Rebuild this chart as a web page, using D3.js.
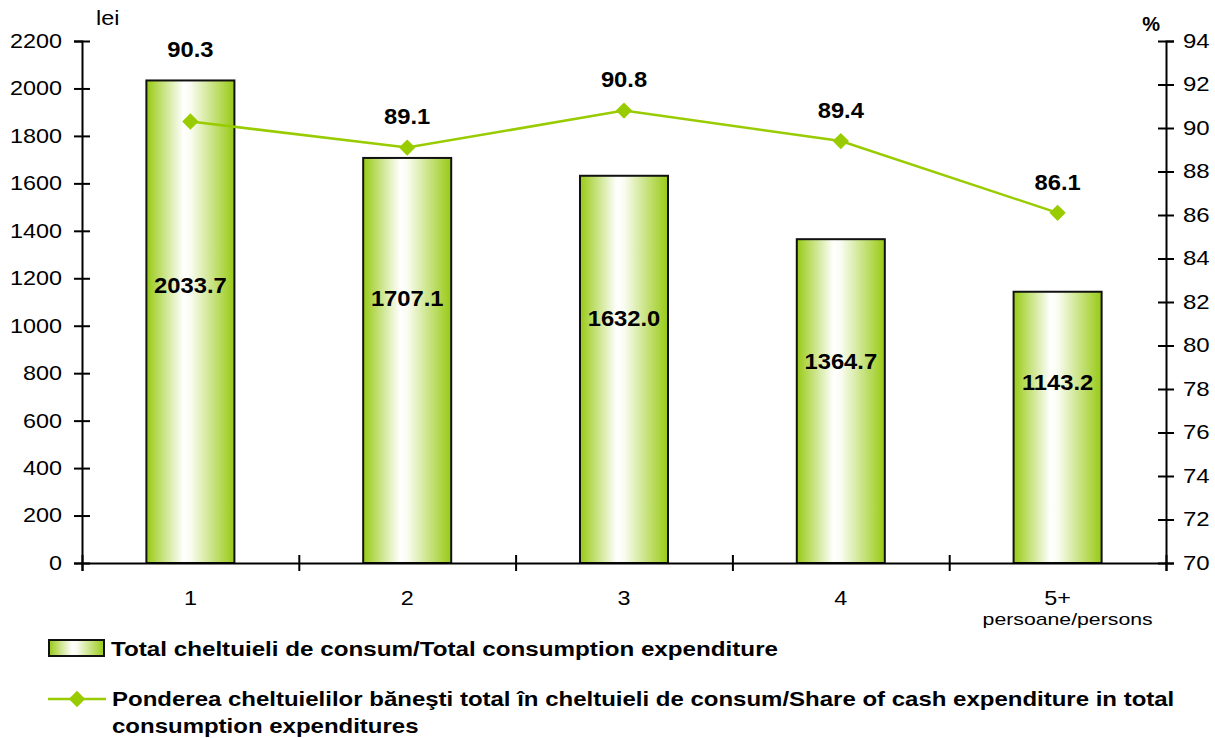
<!DOCTYPE html>
<html>
<head>
<meta charset="utf-8">
<script src="https://cdn.jsdelivr.net/npm/d3@7"></script>
<style>
  body { margin: 0; background: #fff; }
  svg { font-family: "Liberation Sans", Arial, sans-serif; }
  .axis path, .axis line { stroke: #000; stroke-width: 2; }
  .axis text { font-size: 20px; fill: #000; }
  .lbl { font-weight: bold; font-size: 22px; fill: #000; }
  .legend text { font-weight: bold; font-size: 20px; fill: #000; }
</style>
</head>
<body>
<svg class="chart" width="1215" height="738"></svg>
<script>
// data
var categories = ["1", "2", "3", "4", "5+"];
var expenditure = [2033.7, 1707.1, 1632.0, 1364.7, 1143.2];
var cashShare = [90.3, 89.1, 90.8, 89.4, 86.1];
var leftTicks = [0, 200, 400, 600, 800, 1000, 1200, 1400, 1600, 1800, 2000, 2200];
var rightTicks = [70, 72, 74, 76, 78, 80, 82, 84, 86, 88, 90, 92, 94];
var barLegend = "Total cheltuieli de consum/Total consumption expenditure";
var lineLegend = ["Ponderea cheltuielilor băneşti total în cheltuieli de consum/Share of cash expenditure in total",
                  "consumption expenditures"];

var margin = {top: 41, right: 49, bottom: 175, left: 82},
    width = 1215 - margin.left - margin.right,
    height = 738 - margin.top - margin.bottom;

var green = "#99cc00";

// the original picture is a bit wider than tall, so text gets a horizontal stretch
function stretch(sel, sx) {
  sel.each(function() {
    var t = d3.select(this),
        tx = +t.attr("x") || 0,
        ty = +t.attr("y") || 0;
    t.attr("x", 0).attr("y", 0)
     .attr("transform", "translate(" + tx + "," + ty + ") scale(" + sx + ",1)");
  });
}

var svg = d3.select("svg.chart");

var defs = svg.append("defs");
var grad = defs.append("linearGradient")
    .attr("id", "barGrad")
    .attr("x1", "0%").attr("x2", "100%")
    .attr("y1", "0%").attr("y2", "0%");
grad.append("stop").attr("offset", "0%").attr("stop-color", "#98ca14");
grad.append("stop").attr("offset", "42%").attr("stop-color", "#ffffff");
grad.append("stop").attr("offset", "50%").attr("stop-color", "#fafcf2");
grad.append("stop").attr("offset", "100%").attr("stop-color", "#98ca14");

var g = svg.append("g")
    .attr("transform", "translate(" + margin.left + "," + margin.top + ")");

var x = d3.scaleBand()
    .domain(categories)
    .range([0, width])
    .paddingInner(0.594)
    .paddingOuter(0.297);

var xEdge = d3.scaleLinear()
    .domain([0, categories.length])
    .range([0, width]);

var y = d3.scaleLinear()
    .domain([0, 2200])
    .range([height, 0]);

var y2 = d3.scaleLinear()
    .domain([70, 94])
    .range([height, 0]);

// bars
g.selectAll("rect.bar")
  .data(expenditure)
  .enter().append("rect")
    .attr("class", "bar")
    .attr("x", function(d, i) { return x(categories[i]); })
    .attr("width", x.bandwidth())
    .attr("y", function(d) { return y(d); })
    .attr("height", function(d) { return height - y(d); })
    .attr("fill", "url(#barGrad)")
    .attr("stroke", "#111")
    .attr("stroke-width", 2);

// axes
var xAxis = g.append("g")
    .attr("class", "axis")
    .attr("transform", "translate(0," + height + ")")
    .call(d3.axisBottom(xEdge)
      .tickValues(d3.range(categories.length + 1))
      .tickFormat("")
      .tickSizeOuter(0)
      .tickSize(8));
xAxis.selectAll(".tick line").attr("y1", -8);

var yAxis = g.append("g")
    .attr("class", "axis")
    .call(d3.axisLeft(y)
      .tickValues(leftTicks)
      .tickFormat(d3.format("d"))
      .tickSizeOuter(0)
      .tickSize(8)
      .tickPadding(12));
yAxis.selectAll(".tick line").attr("x1", 8);
stretch(yAxis.selectAll(".tick text"), 1.17);

var yAxis2 = g.append("g")
    .attr("class", "axis")
    .attr("transform", "translate(" + width + ",0)")
    .call(d3.axisRight(y2)
      .tickValues(rightTicks)
      .tickSizeOuter(0)
      .tickSize(8)
      .tickPadding(9));
yAxis2.selectAll(".tick line").attr("x1", -8);
stretch(yAxis2.selectAll(".tick text"), 1.2);

svg.selectAll(".axis .domain").attr("stroke-width", 2);

// category labels
g.selectAll("text.cat")
  .data(categories)
  .enter().append("text")
    .attr("class", "cat")
    .attr("x", function(d) { return x(d) + x.bandwidth() / 2; })
    .attr("y", height + 42)
    .attr("text-anchor", "middle")
    .style("font-size", "20px")
    .text(function(d) { return d; })
    .call(stretch, 1.17);

g.append("text")
    .attr("x", x(categories[4]) + x.bandwidth() / 2 + 10)
    .attr("y", height + 62)
    .attr("text-anchor", "middle")
    .style("font-size", "17px")
    .text("persoane/persons")
    .call(stretch, 1.25);

// unit labels
g.append("text")
    .attr("x", 14)
    .attr("y", -16)
    .style("font-size", "20px")
    .text("lei")
    .call(stretch, 1.17);

g.append("text")
    .attr("x", width - 6)
    .attr("y", -10)
    .attr("text-anchor", "end")
    .style("font-size", "20px")
    .style("font-weight", "bold")
    .text("%");

// line
var line = d3.line()
    .x(function(d, i) { return x(categories[i]) + x.bandwidth() / 2; })
    .y(function(d) { return y2(d); });

g.append("path")
    .datum(cashShare)
    .attr("fill", "none")
    .attr("stroke", green)
    .attr("stroke-width", 2.5)
    .attr("d", line);

var diamond = d3.symbol().type(d3.symbolDiamond2).size(170);

g.selectAll("path.pt")
  .data(cashShare)
  .enter().append("path")
    .attr("class", "pt")
    .attr("d", diamond)
    .attr("fill", green)
    .attr("transform", function(d, i) {
      return "translate(" + (x(categories[i]) + x.bandwidth() / 2) + "," + y2(d) + ")";
    });

// value labels (bar labels were moved by hand in the original)
var barLabelAt = [1170, 1115, 1030, 852, 760];
g.selectAll("text.barlbl")
  .data(expenditure)
  .enter().append("text")
    .attr("class", "lbl")
    .attr("x", function(d, i) { return x(categories[i]) + x.bandwidth() / 2; })
    .attr("y", function(d, i) { return y(barLabelAt[i]); })
    .attr("dy", "0.35em")
    .attr("text-anchor", "middle")
    .text(function(d) { return d.toFixed(1); })
    .call(stretch, 1.08);

g.selectAll("text.ptlbl")
  .data(cashShare)
  .enter().append("text")
    .attr("class", "lbl")
    .attr("x", function(d, i) { return x(categories[i]) + x.bandwidth() / 2; })
    .attr("y", function(d, i) { return y2(d) - (i === 0 ? 72 : 31); })
    .attr("dy", "0.35em")
    .attr("text-anchor", "middle")
    .text(function(d) { return d.toFixed(1); })
    .call(stretch, 1.08);

// legend
var legend = svg.append("g").attr("class", "legend");

legend.append("rect")
    .attr("x", 49).attr("y", 640)
    .attr("width", 55).attr("height", 16)
    .attr("fill", "url(#barGrad)")
    .attr("stroke", "#111")
    .attr("stroke-width", 2);
legend.append("text")
    .attr("x", 111).attr("y", 656)
    .text(barLegend)
    .call(stretch, 1.21);

legend.append("line")
    .attr("x1", 48).attr("x2", 106)
    .attr("y1", 699).attr("y2", 699)
    .attr("stroke", green)
    .attr("stroke-width", 2.5);
legend.append("path")
    .attr("d", diamond)
    .attr("fill", green)
    .attr("transform", "translate(77,699)");
legend.selectAll("text.l2")
  .data(lineLegend)
  .enter().append("text")
    .attr("x", 112)
    .attr("y", function(d, i) { return 706 + i * 27; })
    .text(function(d) { return d; })
    .call(stretch, 1.2);
</script>
</body>
</html>
